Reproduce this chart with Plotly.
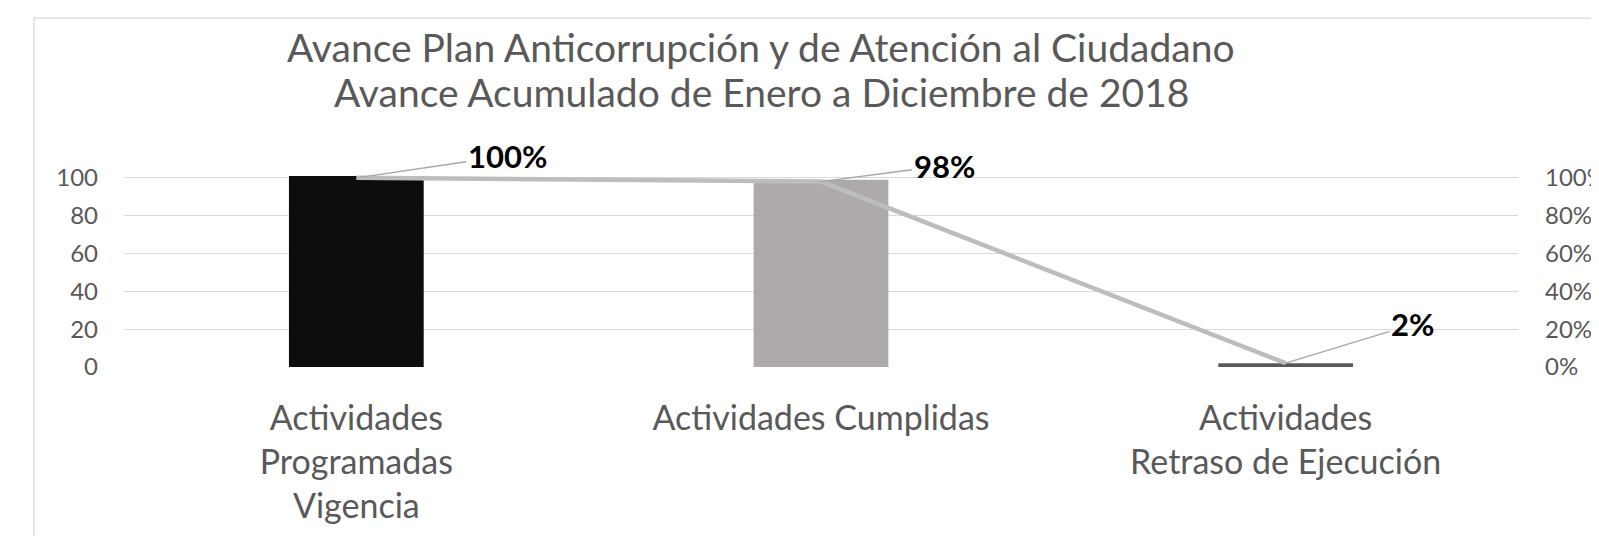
import plotly.graph_objects as go

categories = ["Actividades<br>Programadas<br>Vigencia", "Actividades Cumplidas", "Actividades<br>Retraso de Ejecución"]
bar_values = [101, 99, 2]
pct_values = [1.00, 0.98, 0.02]
pct_labels = ["100%", "98%", "2%"]
bar_colors = ["#0D0D0D", "#AEAAAA", "#595959"]
left_ticks = [0, 20, 40, 60, 80, 100]
right_ticks = [0, 0.2, 0.4, 0.6, 0.8, 1.0]
right_tick_text = ["0%", "20%", "40%", "60%", "80%", "100%"]
label_offsets = [(151, -22), (123, -16), (127, -39)]
title_lines = ["Avance Plan Anticorrupción y de Atención al Ciudadano",
               "Avance Acumulado de Enero a Diciembre de 2018"]

FONT = "Lato"
GREY = "#595959"

fig = go.Figure()
fig.add_trace(go.Bar(x=categories, y=bar_values, marker=dict(color=bar_colors, line=dict(width=0)),
                     width=0.29, yaxis="y", showlegend=False))
fig.add_trace(go.Scatter(x=categories, y=pct_values, mode="lines", yaxis="y2",
                         line=dict(color="#BDBDBD", width=4.5), showlegend=False))

for cat, v, lab, (ax, ay) in zip(categories, pct_values, pct_labels, label_offsets):
    fig.add_annotation(x=cat, y=v, xref="x", yref="y2", text="<b>" + lab + "</b>",
                       showarrow=True, arrowhead=0, arrowwidth=1.3, arrowcolor="#A6A6A6",
                       ax=ax, ay=ay, standoff=0, font=dict(family=FONT, size=31, color="#000000"))

fig.add_annotation(x=0.457, y=1.656, xref="paper", yref="paper", text=title_lines[0], showarrow=False,
                   font=dict(family=FONT, size=39, color=GREY), yanchor="middle")
fig.add_annotation(x=0.457, y=1.425, xref="paper", yref="paper", text=title_lines[1], showarrow=False,
                   font=dict(family=FONT, size=39, color=GREY), yanchor="middle")

fig.add_shape(type="rect", xref="paper", yref="paper", x0=-0.0646, y0=-2, x1=1.2, y1=1.808,
              line=dict(color="#D9D9D9", width=1.3), fillcolor="rgba(0,0,0,0)", layer="below")

fig.update_layout(
    width=1591, height=528,
    margin=dict(l=116, r=81, t=166, b=169, autoexpand=False),
    paper_bgcolor="white", plot_bgcolor="white",
    font=dict(family=FONT, color=GREY),
    xaxis=dict(showgrid=False, showline=False, zeroline=False, ticks="",
               tickfont=dict(family=FONT, size=34, color=GREY), ticklabelstandoff=28),
    yaxis=dict(range=[0, 102], tickvals=left_ticks, showgrid=True, gridcolor="#D9D9D9", gridwidth=1.3,
               zeroline=False, showline=False, tickfont=dict(family=FONT, size=24, color=GREY),
               ticklabelstandoff=25),
    yaxis2=dict(range=[0, 1.02], tickvals=right_ticks, ticktext=right_tick_text, overlaying="y",
                side="right", showgrid=False, zeroline=False, showline=False,
                tickfont=dict(family=FONT, size=24, color=GREY), ticklabelstandoff=26),
)

fig.write_html("out.html")
